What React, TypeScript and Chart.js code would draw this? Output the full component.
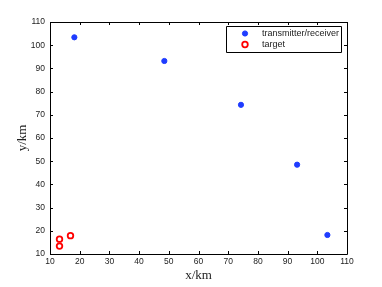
import React, { useEffect, useRef } from "react";
import { Chart, registerables } from "chart.js";

Chart.register(...registerables);

const transmitterX = [18.2, 48.5, 74.3, 93.2, 103.4];
const transmitterY = [103.4, 93.2, 74.3, 48.5, 18.2];
const targetX = [13.2, 13.2, 16.9];
const targetY = [16.4, 13.4, 17.9];
const tickValues = [10, 20, 30, 40, 50, 60, 70, 80, 90, 100, 110];
const seriesLabels = ["transmitter/receiver", "target"];
const axisTitles = ["x/km", "y/km"];

const BLUE = "#1f3cff";
const RED = "#ff0000";
const TICK_FONT = "Liberation Sans";

const boxPlugin = {
  id: "matlabBox",
  afterDraw(chart: any) {
    const { ctx, chartArea } = chart;
    const { left, right, top, bottom } = chartArea;
    const xs = chart.scales.x;
    const ys = chart.scales.y;
    ctx.save();
    ctx.strokeStyle = "#000";
    ctx.lineWidth = 1;
    ctx.beginPath();
    ctx.rect(Math.round(left) + 0.5, Math.round(top) + 0.5, Math.round(right - left), Math.round(bottom - top));
    ctx.stroke();
    const tl = 3;
    ctx.beginPath();
    for (const t of xs.ticks) {
      const px = Math.round(xs.getPixelForValue(t.value)) + 0.5;
      ctx.moveTo(px, bottom);
      ctx.lineTo(px, bottom - tl);
      ctx.moveTo(px, top);
      ctx.lineTo(px, top + tl);
    }
    for (const t of ys.ticks) {
      const py = Math.round(ys.getPixelForValue(t.value)) + 0.5;
      ctx.moveTo(left, py);
      ctx.lineTo(left + tl, py);
      ctx.moveTo(right, py);
      ctx.lineTo(right - tl, py);
    }
    ctx.stroke();

    // legend
    const lx = 226, ly = 26, lw = 115, lh = 26;
    ctx.fillStyle = "#fff";
    ctx.fillRect(lx, ly, lw, lh);
    ctx.beginPath();
    ctx.rect(lx + 0.5, ly + 0.5, lw, lh);
    ctx.stroke();
    ctx.font = `9px "${TICK_FONT}"`;
    ctx.textBaseline = "middle";
    ctx.textAlign = "left";
    chart.data.datasets.forEach((ds: any, i: number) => {
      const cy = ly + 7.5 + i * 11;
      const cx = lx + 19;
      ctx.beginPath();
      ctx.arc(cx, cy, ds.pointRadius, 0, Math.PI * 2);
      if (ds.pointBackgroundColor && ds.pointBackgroundColor !== "rgba(0,0,0,0)") {
        ctx.fillStyle = ds.pointBackgroundColor;
        ctx.fill();
      }
      ctx.lineWidth = ds.pointBorderWidth;
      ctx.strokeStyle = ds.pointBorderColor;
      ctx.stroke();
      ctx.fillStyle = "#222";
      ctx.fillText(ds.label, lx + 36, cy + 0.5);
    });
    ctx.restore();
  },
};

export default function App() {
  const ref = useRef<HTMLCanvasElement>(null);
  useEffect(() => {
    document.body.style.margin = "0";
    const chart = new Chart(ref.current!, {
      type: "scatter",
      data: {
        datasets: [
          {
            label: seriesLabels[0],
            data: transmitterX.map((x, i) => ({ x, y: transmitterY[i] })),
            pointRadius: 2.6,
            pointBackgroundColor: BLUE,
            pointBorderColor: BLUE,
            pointBorderWidth: 1,
          },
          {
            label: seriesLabels[1],
            data: targetX.map((x, i) => ({ x, y: targetY[i] })),
            pointRadius: 2.8,
            pointBackgroundColor: "rgba(0,0,0,0)",
            pointBorderColor: RED,
            pointBorderWidth: 1.8,
          },
        ],
      },
      options: {
        animation: false,
        responsive: false,
        devicePixelRatio: 1,
        layout: { padding: { left: 0, right: 35, top: 22, bottom: 0 } },
        plugins: { legend: { display: false }, tooltip: { enabled: false } },
        scales: {
          x: {
            type: "linear",
            min: 10,
            max: 110,
            afterBuildTicks: (s: any) => {
              s.ticks = tickValues.map((v) => ({ value: v }));
            },
            afterFit: (s: any) => {
              s.height = 33;
            },
            grid: { display: false, drawTicks: false },
            border: { display: false },
            ticks: {
              color: "#222",
              padding: 3,
              maxRotation: 0,
              autoSkip: false,
              font: { family: TICK_FONT, size: 8.5 },
            },
            title: {
              display: true,
              text: axisTitles[0],
              color: "#222",
              font: { family: "Liberation Serif", size: 13 },
              padding: { top: 0, bottom: 4 },
            },
          },
          y: {
            type: "linear",
            min: 10,
            max: 110,
            afterBuildTicks: (s: any) => {
              s.ticks = tickValues.map((v) => ({ value: v }));
            },
            afterFit: (s: any) => {
              s.width = 50;
            },
            grid: { display: false, drawTicks: false },
            border: { display: false },
            ticks: {
              color: "#222",
              padding: 5,
              autoSkip: false,
              font: { family: TICK_FONT, size: 8.5 },
            },
            title: {
              display: true,
              text: axisTitles[1],
              color: "#222",
              font: { family: "Liberation Serif", size: 13 },
              padding: { top: 15, bottom: 0 },
            },
          },
        },
      },
      plugins: [boxPlugin],
    });
    return () => chart.destroy();
  }, []);
  return (
    <div style={{ position: "absolute", left: 0, top: 0, width: 382, height: 287, background: "#fff" }}>
      <canvas ref={ref} width={382} height={287} style={{ width: 382, height: 287 }} />
    </div>
  );
}
